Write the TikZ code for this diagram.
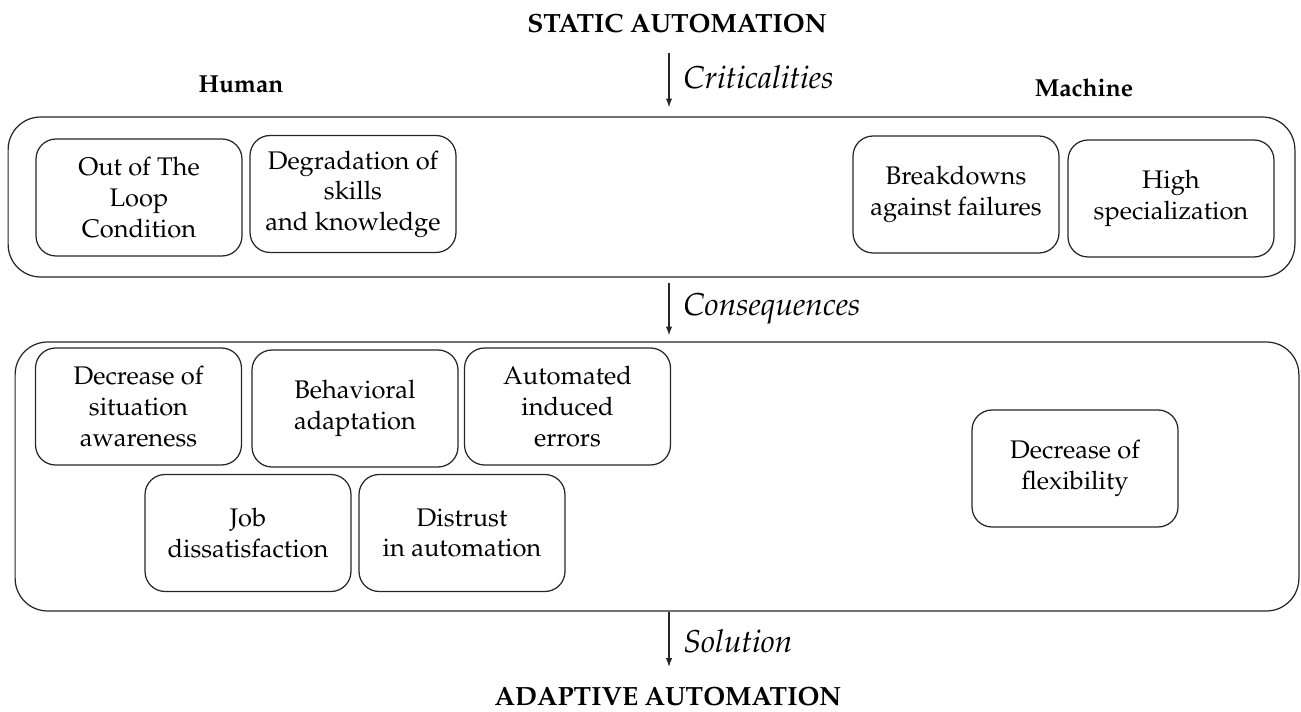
\documentclass[tikz,border=0pt]{standalone}
\usepackage[T1]{fontenc}
\usepackage{mathpazo}
\usepackage{tikz}
\usetikzlibrary{arrows.meta,positioning,calc}

\begin{document}
\begin{tikzpicture}[x=0.02cm, y=-0.02cm, line width=0.7pt, draw=black!85,
    cell/.style={draw, rounded corners=0.4cm, minimum width=4.12cm, minimum height=2.34cm, align=center, inner sep=2pt, font=\fontsize{14.5}{17.4}\selectfont},
    frame/.style={draw, rounded corners=0.65cm, inner sep=0pt},
    head/.style={font=\fontsize{14}{17}\selectfont\bfseries},
    title/.style={inner sep=0pt, font=\fontsize{15}{18}\selectfont\bfseries},
    phase/.style={anchor=west, inner sep=0pt, font=\fontsize{18}{21}\selectfont\itshape},
    flow/.style={-{Latex[length=5pt,width=3.6pt]}}]
    \useasboundingbox (0,0) rectangle (1301,712);

    % titles
    \node[title] (static) at (677,23) {STATIC AUTOMATION};
    \node[title] (adaptive) at (668,696) {ADAPTIVE AUTOMATION};
    \node[head] (human) at (241,84) {Human};
    \node[head] (machine) at (1084,88) {Machine};

    % criticalities
    \node[frame, minimum width=25.74cm, minimum height=3.2cm] (frameA) at (651.5,197) {};
    \node[cell] (loop) at (139,197.5) {Out of The\\Loop\\Condition};
    \node[cell] (skills) at (353,194) {Degradation of\\skills\\and knowledge};
    \node[cell] (breakdown) at (956,194.5) {Breakdowns\\against failures};
    \node[cell] (special) at (1171,198.5) {High\\specialization};

    % consequences
    \node[frame, minimum width=25.68cm, minimum height=5.38cm] (frameB) at (657,476.5) {};
    \node[cell] (aware) at (138.5,406.5) {Decrease of\\situation\\awareness};
    \node[cell] (behave) at (355,408.5) {Behavioral\\adaptation};
    \node[cell] (errors) at (567.5,406.5) {Automated\\induced\\errors};
    \node[cell] (job) at (248,533) {Job\\dissatisfaction};
    \node[cell] (distrust) at (462,533) {Distrust\\in automation};
    \node[cell] (flex) at (1075,468.5) {Decrease of\\flexibility};

    % arrows
    \coordinate (s1) at (669,53);
    \coordinate (s2) at (669,283);
    \coordinate (s3) at (669,612);
    \coordinate (e3) at (669,667);
    \draw[flow, shorten >=0.18cm] (s1) -- (s1 |- frameA.north);
    \draw[flow, shorten >=0.12cm] (s2) -- (s2 |- frameB.north);
    \draw[flow] (s3) -- (e3);
    \node[phase] (crit) at (683,77) {Criticalities};
    \node[phase] (conseq) at (683,309) {Consequences};
    \node[phase] (sol) at (683,641) {Solution};
\end{tikzpicture}
\end{document}
